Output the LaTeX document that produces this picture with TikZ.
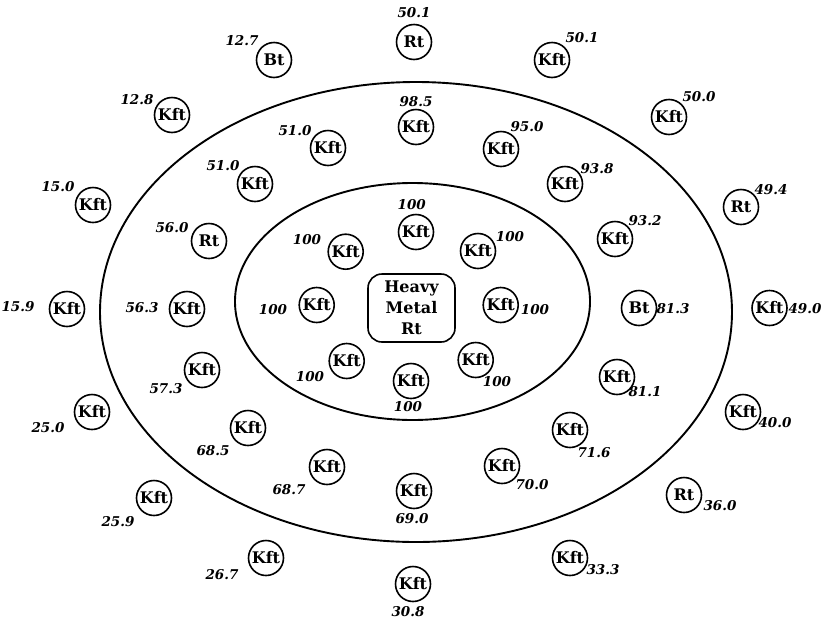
\documentclass[tikz,border=0pt]{standalone}
\usepackage{fontspec}
\setmainfont{DejaVu Serif}
\begin{document}
\begin{tikzpicture}[x=1pt,y=-1pt,
  ring/.style={circle,draw,line width=1.6pt,minimum size=35pt,inner sep=0pt,font=\bfseries\fontsize{16}{19}\selectfont},
  num/.style={inner sep=0pt,font=\bfseries\itshape\fontsize{13.5}{15}\selectfont},
  zone/.style={line width=1.9pt}]
\useasboundingbox (0,0) rectangle (824,619);
% zones
\draw[zone] (416,312) ellipse [x radius=316, y radius=230];
\draw[zone] (412.5,301.5) ellipse [x radius=177.5, y radius=118.5];
\node[draw,line width=1.6pt,rounded corners=14pt,minimum width=87pt,minimum height=68pt,inner sep=0pt,align=center,font=\bfseries\fontsize{16}{21}\selectfont] (core) at (411.5,308) {Heavy\\Metal\\Rt};
% inner ring
\node[ring] (i1) at (416,232) {Kft};   \node[num] (i1l) at (411.7,205) {100};
\node[ring] (i2) at (345.7,251.7) {Kft}; \node[num] (i2l) at (307,240) {100};
\node[ring] (i3) at (478,251) {Kft};   \node[num] (i3l) at (510,237) {100};
\node[ring] (i4) at (316.7,305) {Kft}; \node[num] (i4l) at (273,310) {100};
\node[ring] (i5) at (500.7,305) {Kft}; \node[num] (i5l) at (535,310) {100};
\node[ring] (i6) at (346.7,361) {Kft}; \node[num] (i6l) at (310,377) {100};
\node[ring] (i7) at (475.7,360) {Kft}; \node[num] (i7l) at (497,382) {100};
\node[ring] (i8) at (411,381) {Kft};   \node[num] (i8l) at (408,407) {100};
% middle ring
\node[ring] (m1) at (416,127) {Kft};   \node[num] (m1l) at (416,102) {98.5};
\node[ring] (m2) at (501,149) {Kft};   \node[num] (m2l) at (527,127) {95.0};
\node[ring] (m3) at (565,184) {Kft};   \node[num] (m3l) at (597,169) {93.8};
\node[ring] (m4) at (615,239) {Kft};   \node[num] (m4l) at (645,221) {93.2};
\node[ring] (m5) at (639,308) {Bt};    \node[num] (m5l) at (673,309) {81.3};
\node[ring] (m6) at (617,377) {Kft};   \node[num] (m6l) at (645,392) {81.1};
\node[ring] (m7) at (570,430) {Kft};   \node[num] (m7l) at (594,453) {71.6};
\node[ring] (m8) at (502,466) {Kft};   \node[num] (m8l) at (532,485) {70.0};
\node[ring] (m9) at (414,491) {Kft};   \node[num] (m9l) at (412,519) {69.0};
\node[ring] (m10) at (327,467) {Kft};  \node[num] (m10l) at (289,490) {68.7};
\node[ring] (m11) at (248,428) {Kft};  \node[num] (m11l) at (213,451) {68.5};
\node[ring] (m12) at (202,370) {Kft};  \node[num] (m12l) at (166,389) {57.3};
\node[ring] (m13) at (187,309) {Kft};  \node[num] (m13l) at (142,308) {56.3};
\node[ring] (m14) at (209,241) {Rt};   \node[num] (m14l) at (172,228) {56.0};
\node[ring] (m15) at (255,184) {Kft};  \node[num] (m15l) at (223,166) {51.0};
\node[ring] (m16) at (328,148) {Kft};  \node[num] (m16l) at (295,131) {51.0};
% outer ring
\node[ring] (o1) at (414,42) {Rt};     \node[num] (o1l) at (414,13) {50.1};
\node[ring] (o2) at (552,60) {Kft};    \node[num] (o2l) at (582,38) {50.1};
\node[ring] (o3) at (669,117) {Kft};   \node[num] (o3l) at (699,97) {50.0};
\node[ring] (o4) at (741,207) {Rt};    \node[num] (o4l) at (771,190) {49.4};
\node[ring] (o5) at (769.5,308) {Kft}; \node[num] (o5l) at (805,309) {49.0};
\node[ring] (o6) at (743,412) {Kft};   \node[num] (o6l) at (775,423) {40.0};
\node[ring] (o7) at (684,495) {Rt};    \node[num] (o7l) at (720,506) {36.0};
\node[ring] (o8) at (570,558) {Kft};   \node[num] (o8l) at (603,570) {33.3};
\node[ring] (o9) at (413,584) {Kft};   \node[num] (o9l) at (408,612) {30.8};
\node[ring] (o10) at (266,558) {Kft};  \node[num] (o10l) at (222,575) {26.7};
\node[ring] (o11) at (154,498) {Kft};  \node[num] (o11l) at (118,522) {25.9};
\node[ring] (o12) at (92,412) {Kft};   \node[num] (o12l) at (48,428) {25.0};
\node[ring] (o13) at (67,309) {Kft};   \node[num] (o13l) at (18,307) {15.9};
\node[ring] (o14) at (93,205) {Kft};   \node[num] (o14l) at (58,187) {15.0};
\node[ring] (o15) at (172,115) {Kft};  \node[num] (o15l) at (137,100) {12.8};
\node[ring] (o16) at (274,60) {Bt};    \node[num] (o16l) at (242,41) {12.7};
\end{tikzpicture}
\end{document}
